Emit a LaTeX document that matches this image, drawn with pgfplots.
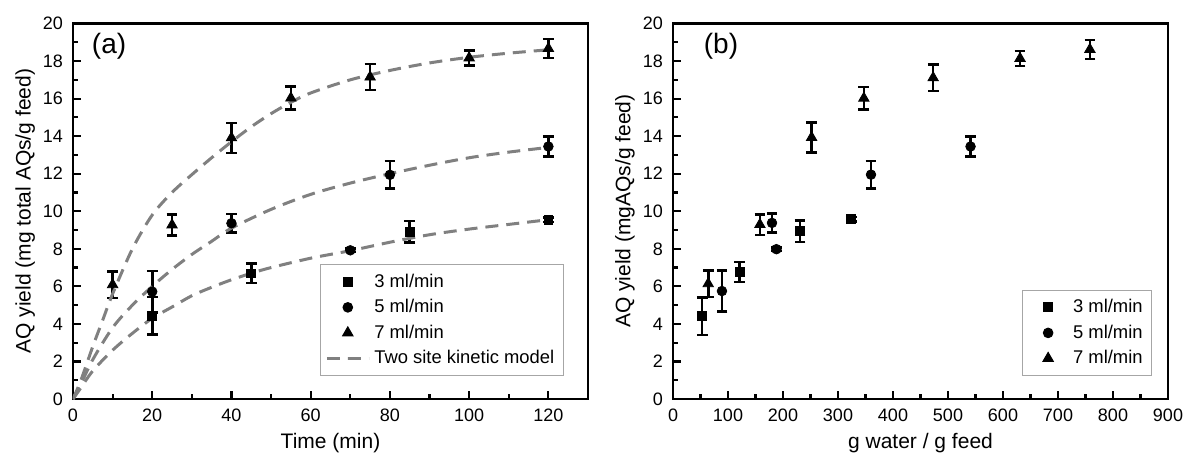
\documentclass[border=0pt]{standalone}
\usepackage{fontspec}
\setmainfont{Liberation Sans}
\usepackage{pgfplots}
\pgfplotsset{compat=1.18}

\definecolor{modelgray}{HTML}{808080}

\pgfplotsset{
  panel/.style={
    scale only axis,
    height=187.75pt,
    ymin=0, ymax=20,
    ytick={0,2,...,20},
    minor tick num=1,
    tick align=inside,
    xtick pos=bottom, ytick pos=left,
    major tick length=4pt, minor tick length=2.3pt,
    every tick/.style={black, line width=1.1pt},
    axis line style={line width=1.4pt},
    /pgf/number format/assume math mode=true,
    ticklabel style={font=\fontsize{9}{10}\selectfont},
    xticklabel style={yshift=-1.5pt},
    yticklabel style={xshift=-1.5pt},
    label style={font=\fontsize{10.5}{12}\selectfont},
    xlabel style={at={(axis description cs:0.5,-0.117)}, anchor=center},
    legend style={font=\fontsize{9.2}{10.5}\selectfont, draw=gray!70, line width=0.5pt,
      legend cell align=left, row sep=0.6pt, inner sep=2.5pt},
  },
  pts/.style={only marks, black, mark options={fill=black},
    legend image code/.code={
      \pgfpathmoveto{\pgfqpoint{0pt}{0pt}}\pgfpathlineto{\pgfqpoint{21pt}{0pt}}\pgfusepath{}
      \draw[##1] plot coordinates {(10.5pt,0pt)};},
    error bars/y dir=both, error bars/y explicit,
    error bars/error bar style={line width=1.3pt, black},
    error bars/error mark options={rotate=90, mark size=2.7pt, line width=1.3pt, black}},
  sq/.style={pts, mark=square*, mark size=2.2pt},
  ci/.style={pts, mark=*, mark size=2.4pt},
  tr/.style={pts, mark=triangle*, mark size=3pt},
  model/.style={no marks, modelgray, line width=1.5pt, dash pattern=on 6.5pt off 4pt, smooth,
    legend image code/.code={\draw[##1] plot coordinates {(0pt,0pt)(21pt,0pt)};}},
}

\begin{document}
\begin{tikzpicture}
\path[use as bounding box] (0,0) rectangle (600pt,231pt);

% (a) yield vs time
\begin{axis}[panel,
  at={(36.5pt,31.5pt)}, anchor=south west,
  width=257.5pt,
  xmin=0, xmax=130, xtick={0,20,...,120},
  xlabel={Time (min)},
  ylabel={AQ yield (mg total AQs/g feed)},
  ylabel style={at={(axis description cs:-0.093,0.5)}, anchor=center},
  legend style={at={(0.953,0.061)}, anchor=south east},
]
\addplot[sq] table[x index=0, y index=1, y error index=2] {
20 4.43 1.0
45 6.69 0.52
85 8.91 0.58
120 9.54 0.12
};
\addlegendentry{3 ml/min}
\addplot[ci] table[x index=0, y index=1, y error index=2] {
20 5.72 1.1
40 9.36 0.5
80 11.94 0.73
120 13.45 0.53
};
\addlegendentry{5 ml/min}
\addplot[tr] table[x index=0, y index=1, y error index=2] {
10 6.09 0.7
25 9.27 0.55
40 13.91 0.8
55 16.03 0.6
75 17.15 0.7
100 18.17 0.4
120 18.67 0.5
};
\addlegendentry{7 ml/min}
% point drawn with a round marker at 70 min
\addplot[ci, forget plot] table[x index=0, y index=1, y error index=2] {
70 7.92 0.1
};
\addplot[model] coordinates {
(0,0)(2,1.0)(5,2.8)(7.5,4.2)(10,5.6)(15,8.0)(20,9.8)(25,11.0)(30,11.95)(35,12.85)
(40,13.7)(45,14.5)(50,15.2)(55,15.8)(60,16.3)(70,17.0)(80,17.5)(90,17.9)(100,18.2)(110,18.42)(120,18.6)
};
\addlegendentry{Two site kinetic model}
\addplot[model, forget plot] coordinates {
(0,0)(2,0.8)(5,2.1)(10,3.8)(15,5.0)(20,6.0)(25,6.9)(30,7.7)(35,8.4)(40,9.1)
(50,10.1)(60,10.9)(70,11.5)(80,12.0)(90,12.45)(100,12.85)(110,13.15)(120,13.4)
};
\addplot[model, forget plot] coordinates {
(0,0)(2,0.6)(5,1.5)(10,2.6)(15,3.5)(20,4.3)(25,4.9)(30,5.5)(35,5.95)(40,6.35)
(45,6.7)(50,7.0)(60,7.5)(70,7.9)(80,8.35)(90,8.75)(100,9.05)(110,9.3)(120,9.55)
};
\node[font=\fontsize{14}{16}\selectfont] at (rel axis cs:0.07,0.94) {(a)};
\end{axis}

% (b) yield vs water-to-feed ratio
\begin{axis}[panel,
  at={(336.5pt,31.5pt)}, anchor=south west,
  width=247.5pt,
  xmin=0, xmax=900, xtick={0,100,...,900},
  xlabel={g water / g feed},
  ylabel={AQ yield (mgAQs/g feed)},
  ylabel style={at={(axis description cs:-0.097,0.5)}, anchor=center},
  legend style={at={(0.968,0.061)}, anchor=south east},
]
\addplot[sq] table[x index=0, y index=1, y error index=2] {
53 4.41 1.0
121 6.76 0.53
231 8.94 0.58
324 9.58 0.12
};
\addlegendentry{3 ml/min}
\addplot[ci] table[x index=0, y index=1, y error index=2] {
89 5.75 1.1
180 9.38 0.5
360 11.95 0.73
541 13.45 0.53
};
\addlegendentry{5 ml/min}
\addplot[tr] table[x index=0, y index=1, y error index=2] {
64 6.14 0.7
158 9.29 0.55
252 13.93 0.8
347 16.02 0.6
473 17.11 0.7
631 18.14 0.4
758 18.62 0.5
};
\addlegendentry{7 ml/min}
\addplot[ci, forget plot] table[x index=0, y index=1, y error index=2] {
188 7.98 0.1
};
\node[font=\fontsize{14}{16}\selectfont] at (rel axis cs:0.097,0.94) {(b)};
\end{axis}
\end{tikzpicture}
\end{document}
